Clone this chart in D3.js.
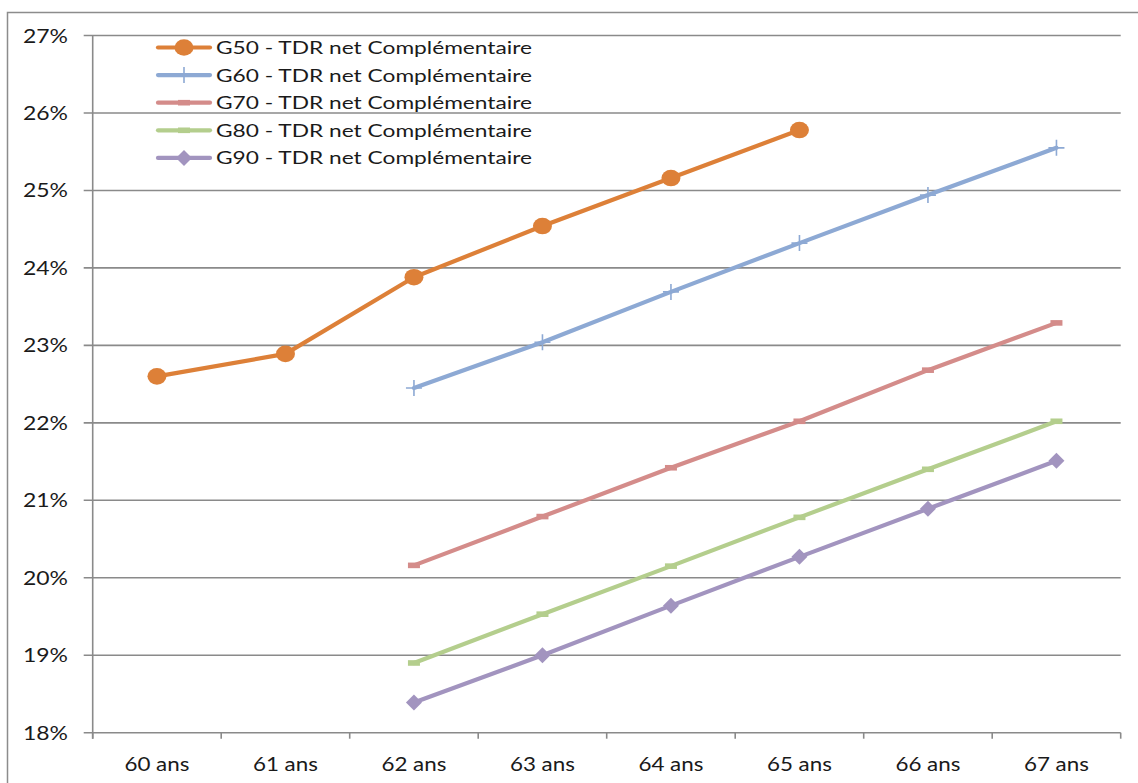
<!DOCTYPE html>
<html>
<head>
<meta charset="utf-8">
<script src="https://cdn.jsdelivr.net/npm/d3@7"></script>
<style>
  html, body { margin: 0; padding: 0; background: #fff; }
  svg { display: block; }
  text { font-family: Lato, "Open Sans", "Liberation Sans", sans-serif; fill: #1a1a1a; }
</style>
</head>
<body>
<svg id="chart" width="1138" height="783"></svg>
<script>
// Age categories along the x axis
const categories = ["60 ans", "61 ans", "62 ans", "63 ans", "64 ans", "65 ans", "66 ans", "67 ans"];

// Net supplementary replacement rate (%) per generation; null = no value
const g50 = [22.60, 22.89, 23.88, 24.54, 25.16, 25.78, null, null];
const g60 = [null, null, 22.45, 23.04, 23.69, 24.32, 24.94, 25.55];
const g70 = [null, null, 20.16, 20.79, 21.42, 22.02, 22.68, 23.29];
const g80 = [null, null, 18.90, 19.53, 20.15, 20.78, 21.40, 22.02];
const g90 = [null, null, 18.39, 19.00, 19.64, 20.27, 20.89, 21.51];

const seriesNames = [
  "G50 - TDR net Complémentaire",
  "G60 - TDR net Complémentaire",
  "G70 - TDR net Complémentaire",
  "G80 - TDR net Complémentaire",
  "G90 - TDR net Complémentaire"
];
const yTicks = [18, 19, 20, 21, 22, 23, 24, 25, 26, 27];

const series = [
  { name: seriesNames[0], values: g50, color: "#DD8038", marker: "circle" },
  { name: seriesNames[1], values: g60, color: "#8DA9D4", marker: "plus" },
  { name: seriesNames[2], values: g70, color: "#D48C8A", marker: "dash" },
  { name: seriesNames[3], values: g80, color: "#B4CE8D", marker: "dash" },
  { name: seriesNames[4], values: g90, color: "#A294BF", marker: "diamond" }
];

const svg = d3.select("#chart");
const plotLeft = 92.7, plotRight = 1120.7, plotTop = 35.5, plotBottom = 732.7;

// Outer chart frame (top and left edges visible within the page)
svg.append("path")
  .attr("d", "M7.5,783 L7.5,12.5 L1138,12.5")
  .attr("fill", "none").attr("stroke", "#8c8c8c").attr("stroke-width", 1.5);

const x = d3.scaleBand().domain(categories).range([plotLeft, plotRight]).paddingInner(0).paddingOuter(0);
const y = d3.scaleLinear().domain([18, 27]).range([plotBottom, plotTop]);

// Horizontal gridlines with short outside ticks
svg.append("g").selectAll("line").data(yTicks).join("line")
  .attr("x1", plotLeft - 9).attr("x2", plotRight)
  .attr("y1", d => y(d)).attr("y2", d => y(d))
  .attr("stroke", "#8a8a8a").attr("stroke-width", 1.6);

// Y axis line
svg.append("line")
  .attr("x1", plotLeft).attr("x2", plotLeft).attr("y1", plotTop).attr("y2", plotBottom + 6)
  .attr("stroke", "#8a8a8a").attr("stroke-width", 1.6);

// Y labels
svg.append("g").selectAll("text").data(yTicks).join("text")
  .attr("x", 68).attr("y", d => y(d)).attr("dy", "0.36em")
  .attr("text-anchor", "end").attr("font-size", 19.5)
  .attr("textLength", 45).attr("lengthAdjust", "spacingAndGlyphs")
  .text(d => d + "%");

// X axis tick marks at category boundaries
const boundaries = categories.map(c => x(c)).concat([x(categories[categories.length - 1]) + x.bandwidth()]);
svg.append("g").selectAll("line").data(boundaries).join("line")
  .attr("x1", d => d).attr("x2", d => d).attr("y1", plotBottom).attr("y2", plotBottom + 6)
  .attr("stroke", "#8a8a8a").attr("stroke-width", 1.6);

// X labels
svg.append("g").selectAll("text").data(categories).join("text")
  .attr("x", d => x(d) + x.bandwidth() / 2).attr("y", 771)
  .attr("text-anchor", "middle").attr("font-size", 19.5)
  .attr("textLength", 65).attr("lengthAdjust", "spacingAndGlyphs")
  .text(d => d);

const cx = c => x(c) + x.bandwidth() / 2;

function drawMarker(g, type, px, py, color) {
  if (type === "circle") {
    g.append("ellipse").attr("cx", px).attr("cy", py).attr("rx", 9.5).attr("ry", 8.3).attr("fill", color);
  } else if (type === "plus") {
    g.append("path").attr("d", `M${px - 8},${py} H${px + 8} M${px},${py - 8} V${py + 8}`)
      .attr("stroke", color).attr("stroke-width", 1.6).attr("fill", "none");
  } else if (type === "dash") {
    g.append("rect").attr("x", px - 6).attr("y", py - 2.8).attr("width", 12).attr("height", 5.6).attr("fill", color);
  } else if (type === "diamond") {
    g.append("path").attr("d", `M${px},${py - 8} L${px + 8},${py} L${px},${py + 8} L${px - 8},${py} Z`)
      .attr("fill", color);
  }
}

const line = d3.line()
  .defined(d => d.v !== null)
  .x(d => cx(d.c)).y(d => y(d.v));

series.forEach(s => {
  const pts = categories.map((c, i) => ({ c, v: s.values[i] }));
  const g = svg.append("g");
  g.append("path").datum(pts).attr("d", line)
    .attr("fill", "none").attr("stroke", s.color).attr("stroke-width", 4.2)
    .attr("stroke-linejoin", "round").attr("stroke-linecap", "round");
  pts.filter(d => d.v !== null).forEach(d => drawMarker(g, s.marker, cx(d.c), y(d.v), s.color));
});

// Legend
const legend = svg.append("g");
series.forEach((s, i) => {
  const ly = 47.5 + i * 27.6;
  const g = legend.append("g");
  g.append("line").attr("x1", 158).attr("x2", 210).attr("y1", ly).attr("y2", ly)
    .attr("stroke", s.color).attr("stroke-width", 4.2).attr("stroke-linecap", "round");
  drawMarker(g, s.marker, 184, ly, s.color);
  g.append("text").attr("x", 216).attr("y", ly).attr("dy", "0.36em")
    .attr("font-size", 18).attr("textLength", 316).attr("lengthAdjust", "spacingAndGlyphs")
    .text(s.name);
});
</script>
</body>
</html>
